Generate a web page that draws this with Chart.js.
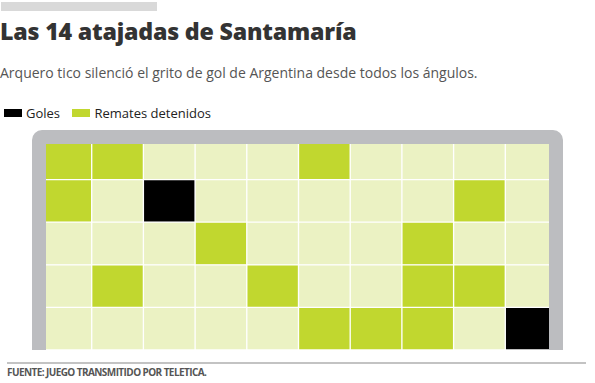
<!DOCTYPE html>
<html>
<head>
<meta charset="utf-8">
<script src="https://cdn.jsdelivr.net/npm/chart.js@4"></script>
<style>
  body { margin: 0; width: 595px; height: 383px; background: #fff; position: relative; overflow: hidden; font-family: "Open Sans", sans-serif; }
  .barra { position: absolute; left: 1px; top: 2px; width: 156px; height: 9px; background: #d9d9d9; }
  .titulo { position: absolute; left: 0; top: 15px; margin: 0; font-size: 23.2px; font-weight: 800; letter-spacing: -0.2px; color: #333; white-space: nowrap; }
  .bajada { position: absolute; left: 0; top: 63px; margin: 0; font-size: 14px; color: #555; white-space: nowrap; }
  .leyenda { position: absolute; left: 4px; top: 104px; font-size: 13px; color: #222; white-space: nowrap; }
  .leyenda span.cuadro { display: inline-block; width: 18px; height: 8px; vertical-align: 1px; margin-right: 4px; }
  .leyenda span.item { margin-right: 9px; }
  #marco { position: absolute; left: 32px; top: 130px; }
  .linea { position: absolute; left: 7px; top: 362px; width: 579px; height: 2px; background: #c3c3c3; }
  .fuente { position: absolute; left: 7px; top: 365px; font-size: 10px; font-weight: 700; letter-spacing: -0.58px; color: #555; white-space: nowrap; }
</style>
</head>
<body>
<div class="barra"></div>
<h1 class="titulo">Las 14 atajadas de Santamaría</h1>
<p class="bajada">Arquero tico silenció el grito de gol de Argentina desde todos los ángulos.</p>
<div class="leyenda">
  <span class="item"><span class="cuadro" style="background:#000"></span>Goles</span>
  <span class="item"><span class="cuadro" style="background:#c1d72f"></span>Remates detenidos</span>
</div>
<canvas id="marco" width="531" height="220"></canvas>
<div class="linea"></div>
<div class="fuente">FUENTE: JUEGO TRANSMITIDO POR TELETICA.</div>

<script>
// zonas del arco: 10 columnas x 5 filas (de arriba hacia abajo)
const columnas = ['1', '2', '3', '4', '5', '6', '7', '8', '9', '10'];
// 'R' = remate detenido, 'G' = gol, '-' = sin remate
const fila1 = ['R', 'R', '-', '-', '-', 'R', '-', '-', '-', '-'];
const fila2 = ['R', '-', 'G', '-', '-', '-', '-', '-', 'R', '-'];
const fila3 = ['-', '-', '-', 'R', '-', '-', '-', 'R', '-', '-'];
const fila4 = ['-', 'R', '-', '-', 'R', '-', '-', 'R', 'R', '-'];
const fila5 = ['-', '-', '-', '-', '-', 'R', 'R', 'R', '-', 'G'];

const colores = { 'R': '#c1d72f', 'G': '#000000', '-': '#ebf2c3' };

// el marco gris del arco se dibuja encima de la cuadricula
const marcoArco = {
    id: 'marcoArco',
    afterDatasetsDraw(chart) {
        let ctx = chart.ctx;
        let w = chart.width, h = chart.height, g = 14;
        ctx.save();
        ctx.fillStyle = '#bcbdc0';
        ctx.beginPath();
        ctx.roundRect(0, 0, w, h, [10, 10, 0, 0]);
        ctx.rect(g, g, w - 2 * g, h - g);
        ctx.fill('evenodd');
        ctx.restore();
    }
};

// la fila de abajo va primero porque las barras se apilan desde abajo
let filas = [fila5, fila4, fila3, fila2, fila1];
let datasets = filas.map(function(fila, i){
    return {
        label: 'fila ' + (5 - i),
        data: fila.map(function(){ return 1; }),
        backgroundColor: fila.map(function(t){ return colores[t]; }),
        borderColor: '#ffffff',
        borderWidth: 1,
        borderSkipped: false,
        categoryPercentage: 1,
        barPercentage: 1
    };
});

let ctx = document.getElementById('marco').getContext('2d');
let chart = new Chart(ctx, {
    type: 'bar',
    data: {
        labels: columnas,
        datasets: datasets
    },
    options: {
        responsive: false,
        animation: false,
        layout: { padding: { left: 8, right: 6, top: 7, bottom: 0 } },
        plugins: {
            legend: { display: false },
            tooltip: { enabled: false }
        },
        scales: {
            x: { stacked: true, display: false },
            y: { stacked: true, display: false, min: 0, max: 5 }
        }
    },
    plugins: [marcoArco]
});
</script>
</body>
</html>
